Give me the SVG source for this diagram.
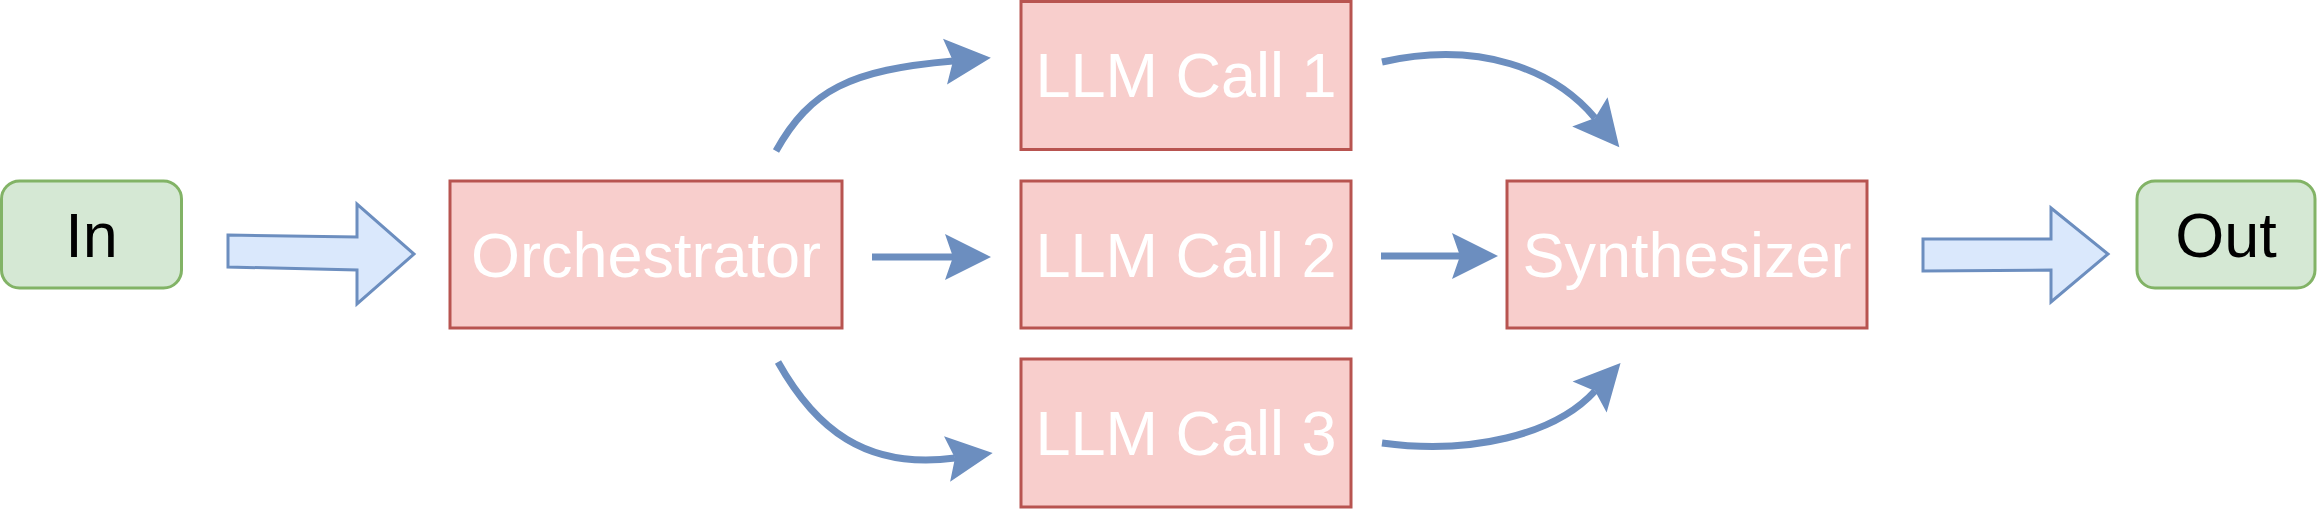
<svg xmlns="http://www.w3.org/2000/svg" width="2319" height="510" viewBox="0 0 2319 510">
<style>
.pink{fill:#f8cecc;stroke:#b85450;stroke-width:3}
.green{fill:#d5e8d4;stroke:#82b366;stroke-width:3}
.wt{fill:#ffffff;font-family:"Liberation Sans",Arial,Helvetica,sans-serif;font-size:63px;text-anchor:middle}
.bt{fill:#000000;font-family:"Liberation Sans",Arial,Helvetica,sans-serif;font-size:63px;text-anchor:middle}
.con{fill:none;stroke:#6c8ebf;stroke-width:7}
.block{fill:#dae8fc;stroke:#6c8ebf;stroke-width:3;stroke-linejoin:miter}
</style>
<defs>
<marker id="ah" markerUnits="userSpaceOnUse" markerWidth="46" markerHeight="46" refX="8" refY="23" orient="auto" overflow="visible">
<path d="M0,0 L46,23 L0,46 L8,23 Z" fill="#6c8ebf"/>
</marker>
</defs>
<rect width="2319" height="510" fill="#ffffff"/>
<g id="connectors">
<polygon class="block" points="228,235 357,237 357,204 414,254 357,304 357,270 228,267"/>
<polygon class="block" points="1923,239 2051,239 2051,208 2108,254 2051,302 2051,270 1923,271"/>
<path class="con" marker-end="url(#ah)" d="M776,151 C810,90 850,70 953,61"/>
<path class="con" marker-end="url(#ah)" d="M872,257 L953,257"/>
<path class="con" marker-end="url(#ah)" d="M778,362 C815,428 865,470 955,458"/>
<path class="con" marker-end="url(#ah)" d="M1382,62 C1480,40 1555,70 1595,118"/>
<path class="con" marker-end="url(#ah)" d="M1381,256 L1460,256"/>
<path class="con" marker-end="url(#ah)" d="M1382,443 C1470,455 1555,435 1595,391"/>
</g>
<g id="in">
<rect class="green" x="1.5" y="181" width="180" height="107" rx="18" ry="18"/>
<text class="bt" x="91.5" y="257">In</text>
</g>
<g id="orchestrator">
<rect class="pink" x="450" y="181" width="392" height="147"/>
<text class="wt" x="646" y="277">Orchestrator</text>
</g>
<g id="llm1">
<rect class="pink" x="1021" y="1.5" width="330" height="148"/>
<text class="wt" x="1186" y="97">LLM Call 1</text>
</g>
<g id="llm2">
<rect class="pink" x="1021" y="181" width="330" height="147"/>
<text class="wt" x="1186" y="277">LLM Call 2</text>
</g>
<g id="llm3">
<rect class="pink" x="1021" y="359" width="330" height="148"/>
<text class="wt" x="1186" y="455">LLM Call 3</text>
</g>
<g id="synthesizer">
<rect class="pink" x="1507" y="181" width="360" height="147"/>
<text class="wt" x="1687" y="277">Synthesizer</text>
</g>
<g id="out">
<rect class="green" x="2137" y="181" width="178" height="107" rx="18" ry="18"/>
<text class="bt" x="2226" y="257">Out</text>
</g>
</svg>
